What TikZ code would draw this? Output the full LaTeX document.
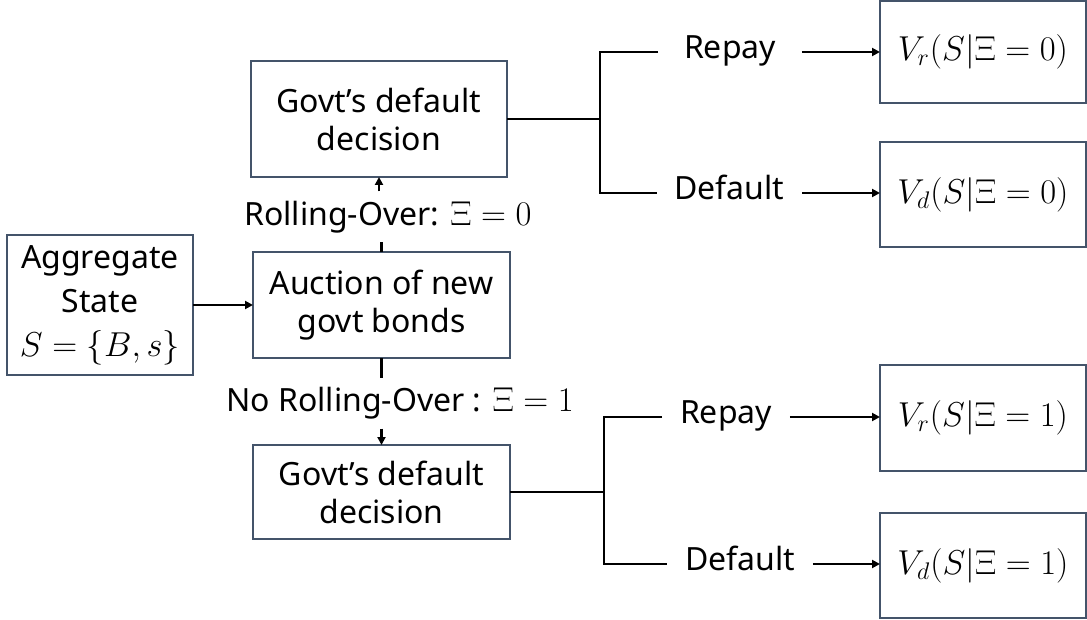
\documentclass[tikz,border=0pt]{standalone}
\usepackage{fontspec}
\setmainfont{Noto Sans}
\usetikzlibrary{arrows.meta}
\definecolor{boxline}{RGB}{68,84,106}

\begin{document}
\begin{tikzpicture}[x=0.5pt, y=-0.5pt,
  every node/.style={font=\fontsize{16}{19}\selectfont, inner sep=0pt, outer sep=0pt},
  box/.style={draw=boxline, line width=0.7pt, align=center},
  vbox/.style={box, minimum width=103pt, font=\fontsize{17}{20}\selectfont},
  lbl/.style={text height=1.5ex, text depth=.25ex, inner xsep=9pt},
  link/.style={line width=1.1pt},
  arr/.style={line width=1.1pt, -{Triangle[length=4pt,width=4pt]}}]
\useasboundingbox (0,0) rectangle (1087,620);

\node[box, minimum width=93pt, minimum height=70pt, font=\fontsize{16}{22}\selectfont] (agg) at (100,305) {Aggregate\\State\\$S=\{B,s\}$};
\node[box, minimum width=128.5pt, minimum height=53pt] (auc) at (381.5,305) {Auction of new\\govt bonds};
\node[box, minimum width=128pt, minimum height=58pt] (dec0) at (379,119) {Govt's default\\decision};
\node[box, minimum width=128.5pt, minimum height=47pt] (dec1) at (381.5,492) {Govt's default\\decision};

\node[minimum height=25.5pt] (ro0) at (388,217) {Rolling-Over: $\Xi = 0$};
\node[minimum height=25.5pt] (ro1) at (400,403) {No Rolling-Over : $\Xi = 1$};

\node[vbox, minimum height=51pt] (vr0) at (983,52) {$V_r(S|\Xi = 0)$};
\node[vbox, minimum height=52.5pt] (vd0) at (983,194.5) {$V_d(S|\Xi = 0)$};
\node[vbox, minimum height=53pt] (vr1) at (983,418) {$V_r(S|\Xi = 1)$};
\node[vbox, minimum height=52.5pt] (vd1) at (983,565.5) {$V_d(S|\Xi = 1)$};

\node[lbl, inner xsep=13pt] (rp0) at (730,52) {Repay};
\node[lbl] (df0) at (729.5,193) {Default};
\node[lbl] (rp1) at (726,417) {Repay};
\node[lbl] (df1) at (740,564) {Default};

\coordinate (j0) at (600,119);
\coordinate (j1) at (604,492);

\draw[arr] (agg.east |- auc.west) -- (auc.west);

\draw[link] (auc.north) -- (auc.north |- ro0.south);
\draw[arr] (dec0.south |- ro0.north) -- (dec0.south);
\draw[link] (auc.south) -- (auc.south |- ro1.north);
\draw[arr] (dec1.north |- ro1.south) -- (dec1.north);

\draw[link] (dec0.east) -- (j0);
\draw[link] (rp0.west) -| (j0) |- (df0.west);
\draw[link] (dec1.east) -- (j1);
\draw[link] (rp1.west) -| (j1) |- (df1.west);

\draw[arr] (rp0.east) -- (rp0.east -| vr0.west);
\draw[arr] (df0.east) -- (df0.east -| vd0.west);
\draw[arr] (rp1.east) -- (rp1.east -| vr1.west);
\draw[arr] (df1.east) -- (df1.east -| vd1.west);
\end{tikzpicture}
\end{document}
